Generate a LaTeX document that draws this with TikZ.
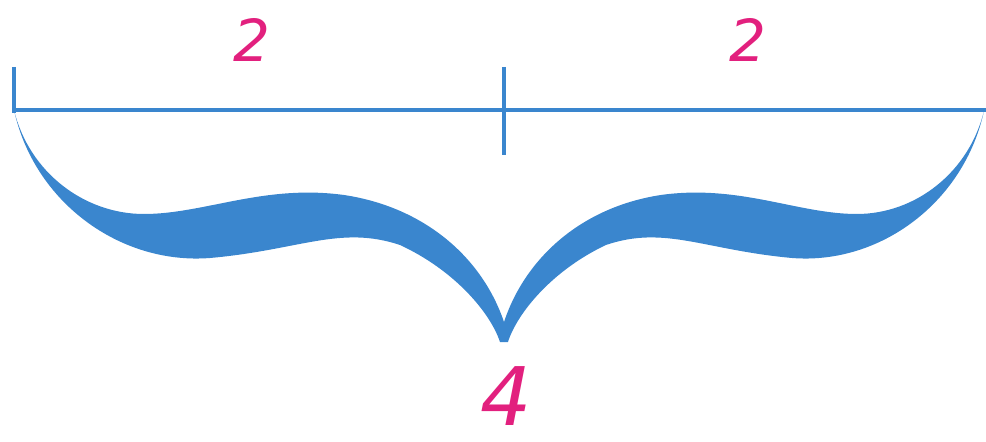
\documentclass[tikz,border=0pt]{standalone}
\usepackage{fontspec}
\usepackage{tikz}
\usetikzlibrary{calc,positioning}
\newfontfamily\handdigits{DejaVu Sans}
\definecolor{braceBlue}{RGB}{58,134,206}
\definecolor{lenPink}{RGB}{226,32,126}
\newcommand{\bracehalf}[1]{%
  \begin{scope}[shift={(504,342)}, xscale=#1]
    \fill[braceBlue]
      (-490,-232) .. controls (-470,-140) and (-384,-77) .. (-294,-84)
      .. controls (-204,-92) and (-164,-117) .. (-104,-97)
      .. controls (-50,-72) and (-14,-30) .. (-4,0) -- (0,0)
      -- (0,-20) .. controls (-22,-85) and (-80,-135) .. (-160,-147)
      .. controls (-240,-158) and (-300,-128) .. (-360,-128)
      .. controls (-420,-128) and (-475,-170) .. (-490,-232) -- cycle;
  \end{scope}}

\begin{document}
\begin{tikzpicture}[x=0.02cm, y=-0.02cm,
    lenlabel/.style={text=lenPink, inner sep=0pt, anchor=north,
      font=\handdigits\itshape\fontsize{33}{36}\selectfont},
    barline/.style={draw=braceBlue, line width=2.2pt}]
  \useasboundingbox (0,0) rectangle (986,442);
  \coordinate (L) at (14,110);
  \coordinate (Ltop) at (14,67);
  \coordinate (M) at (504,110);
  \coordinate (Mtop) at (504,67);
  \coordinate (Mbot) at (504,155);
  \coordinate (R) at (986,110);
  \draw[barline] (L) -- (R);
  \draw[barline, line width=1.8pt] (Ltop) -- ($(L)+(0,3)$);
  \draw[barline, line width=1.8pt] (Mtop) -- (Mbot);
  \bracehalf{1}
  \bracehalf{-0.98}
  \node[lenlabel] (leftlen) at (252,18) {2};
  \node[lenlabel] (rightlen) at (748,18) {2};
  \node[lenlabel, font=\handdigits\itshape\fontsize{46}{50}\selectfont]
    (total) at (506,366) {4};
\end{tikzpicture}
\end{document}
